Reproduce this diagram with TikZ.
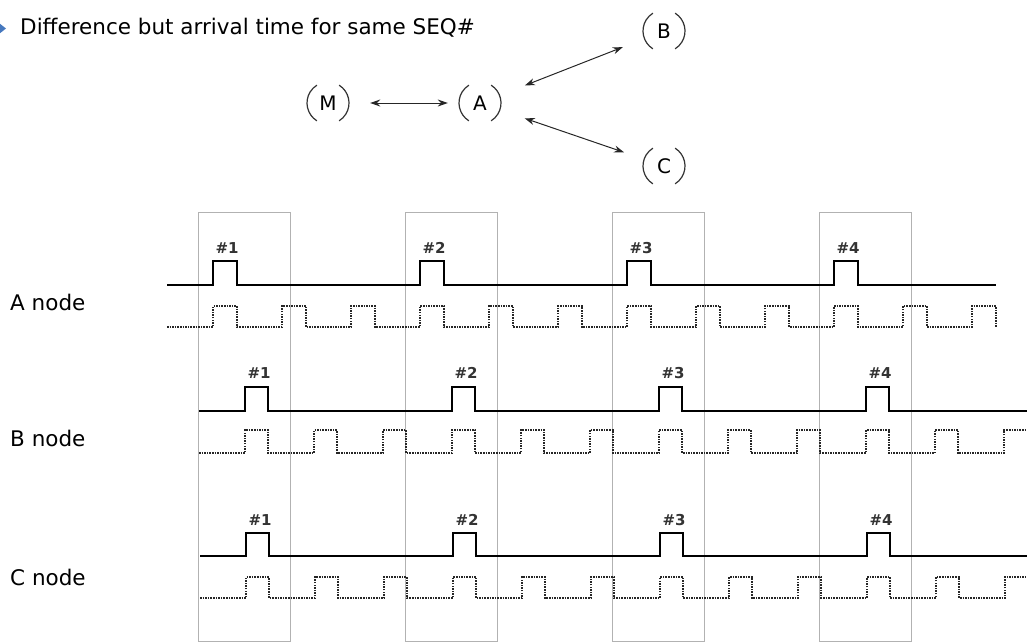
\documentclass[tikz,border=0pt]{standalone}
\usepackage{fontspec}
\setmainfont{DejaVu Sans}
\usetikzlibrary{arrows.meta}
\definecolor{bulletblue}{RGB}{70,120,190}
\tikzset{
  circ/.style={circle,minimum size=42pt,inner sep=0pt,font=\fontsize{20}{22}\selectfont},
  ring/.style={line width=1.2pt,draw=black!80},
  link/.style={line width=1pt,draw=black!85,{Stealth[length=10pt,width=7pt]}-{Stealth[length=10pt,width=7pt]}},
  frame/.style={draw=black!30,line width=0.7pt},
  sig/.style={line width=1.6pt,draw=black},
  clk/.style={line width=1.5pt,draw=black!85,dash pattern=on 1.5pt off 1.1pt},
  num/.style={font=\fontsize{15}{16}\selectfont\bfseries,inner sep=0pt,text=black!80},
  lab/.style={font=\fontsize{21.5}{23}\selectfont,inner sep=0pt,anchor=west}
}
\begin{document}
\begin{tikzpicture}[x=1pt,y=-1pt]
\useasboundingbox (0,0) rectangle (1027,643);
% title
\fill[bulletblue] (-1,23) -- (6,28.5) -- (-1,34) -- cycle;
\node[lab] (title) at (20,28) {Difference but arrival time for same SEQ\#};
% network
\node[circ] (M) at (328,103) {M};
\node[circ] (A) at (480,103) {A};
\node[circ] (B) at (664,31) {B};
\node[circ] (C) at (664,166) {C};
\foreach \n in {M,A,B,C} {
  \draw[ring] ([shift={(122:21)}]\n.center) arc (122:238:21);
  \draw[ring] ([shift={(-58:21)}]\n.center) arc (-58:58:21);
}
\draw[link,shorten <=21pt,shorten >=11pt] (M) -- (A);
\draw[link,shorten <=27pt,shorten >=23pt] (A) -- (B);
\draw[link,shorten <=26pt,shorten >=21pt] (A) -- (C);
% frames
\foreach \x in {198,405,612,819} {
  \draw[frame] (\x,212) rectangle ({\x+92},641);
}
% labels
\node[lab] (la) at (10,302) {A node};
\node[lab] (lb) at (10,438) {B node};
\node[lab] (lc) at (10,577) {C node};
% A node
\draw[sig] (167,285) foreach \k in {0,...,3} {
  -- ({213+207*\k},285) -- ({213+207*\k},261) -- ({237+207*\k},261) -- ({237+207*\k},285)
} -- (996,285);
\draw[clk] (167,327) foreach \k in {0,...,11} {
  -- ({213+69*\k},327) -- ({213+69*\k},306) -- ({237+69*\k},306) -- ({237+69*\k},327)
};
\foreach \k in {1,...,4} {
  \node[num] (na\k) at ({227+207*(\k-1)},248) {\#\k};
}
% B node
\draw[sig] (199,411) foreach \k in {0,...,3} {
  -- ({245+207*\k},411) -- ({245+207*\k},387) -- ({268+207*\k},387) -- ({268+207*\k},411)
} -- (1027,411);
\draw[clk] (199,453) foreach \k in {0,...,10} {
  -- ({245+69*\k},453) -- ({245+69*\k},430) -- ({268+69*\k},430) -- ({268+69*\k},453)
} -- (1004,453) -- (1004,430) -- (1027,430);
\foreach \k in {1,...,4} {
  \node[num] (nb\k) at ({259+207*(\k-1)},373) {\#\k};
}
% C node
\draw[sig] (200,556) foreach \k in {0,...,3} {
  -- ({246+207*\k},556) -- ({246+207*\k},533) -- ({269+207*\k},533) -- ({269+207*\k},556)
} -- (1027,556);
\draw[clk] (200,598) foreach \k in {0,...,10} {
  -- ({246+69*\k},598) -- ({246+69*\k},577) -- ({269+69*\k},577) -- ({269+69*\k},598)
} -- (1005,598) -- (1005,577) -- (1027,577);
\foreach \k in {1,...,4} {
  \node[num] (nc\k) at ({260+207*(\k-1)},520) {\#\k};
}
\end{tikzpicture}
\end{document}
